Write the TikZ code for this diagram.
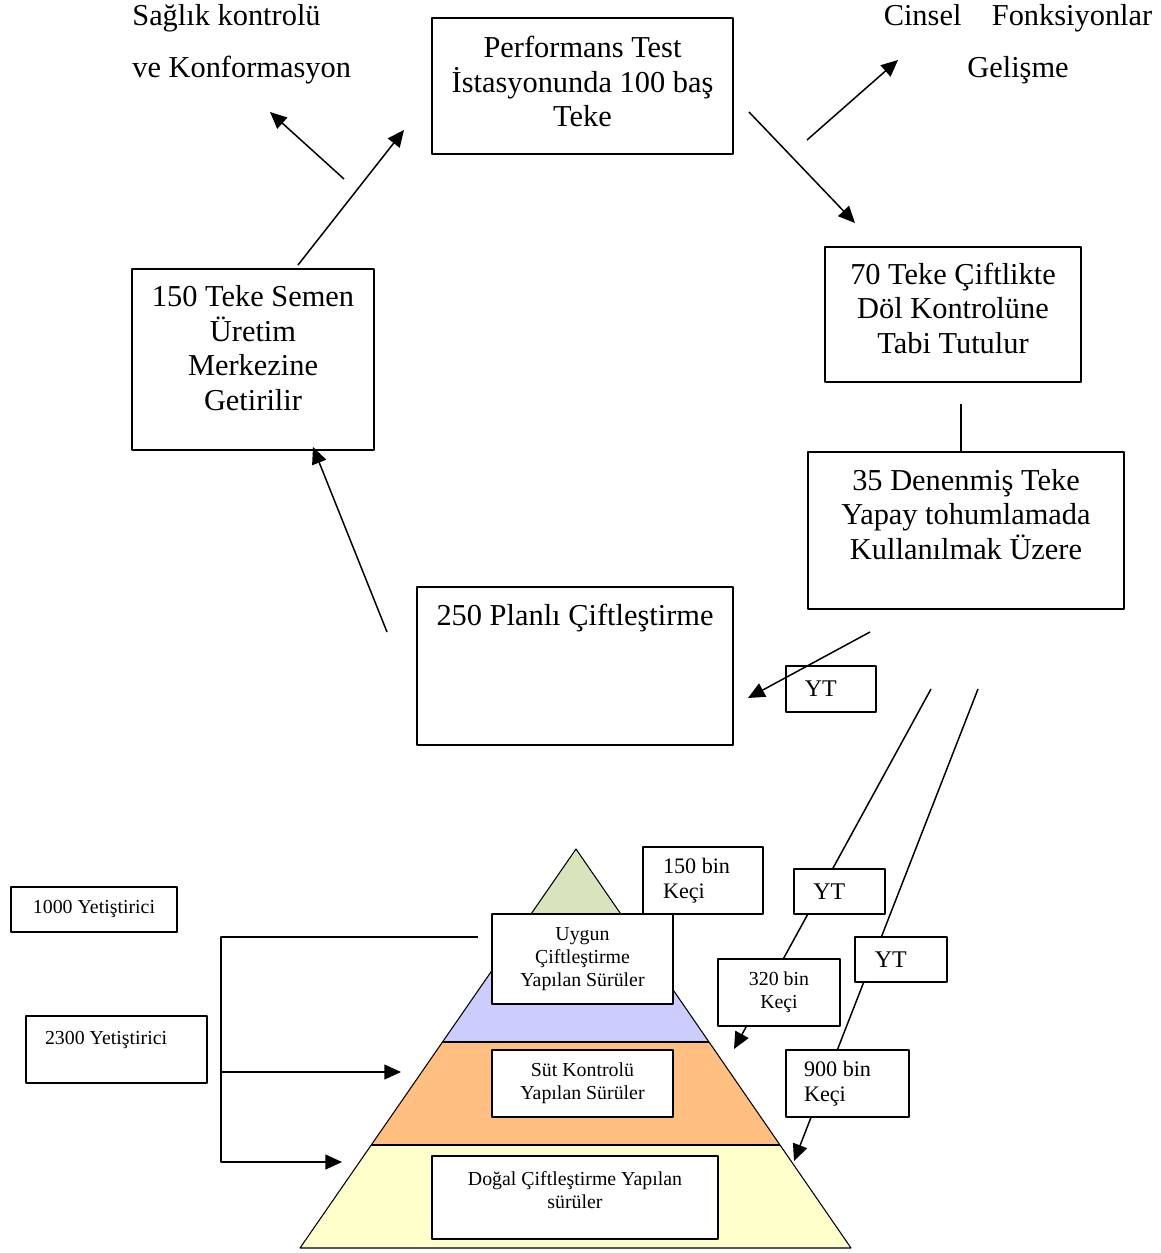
\documentclass[tikz,border=0pt]{standalone}
\usepackage{fontspec}
\setmainfont{Liberation Serif}
\usetikzlibrary{arrows.meta}
\definecolor{yesil}{RGB}{215,228,189}
\definecolor{mavi}{RGB}{204,204,255}
\definecolor{turuncu}{RGB}{255,191,128}
\definecolor{sari}{RGB}{255,255,204}
\newcommand{\bosluk}[1]{\rule[-#1]{0pt}{#1}}
\tikzset{
  kutu/.style={draw,fill=white,line width=1.1pt,inner sep=0pt,align=center},
  buyuk/.style={font=\fontsize{17.3}{19.6}\selectfont},
  seyrek/.style={font=\fontsize{17.3}{29.5}\selectfont},
  orta/.style={font=\fontsize{12.6}{14.2}\selectfont},
  kucuk/.style={font=\fontsize{11.3}{13}\selectfont},
  ytyazi/.style={font=\fontsize{13.6}{15.6}\selectfont},
  ok/.style={->,line width=0.85pt},
}
\begin{document}
\begin{tikzpicture}[x=0.02cm,y=-0.02cm,>={Triangle[length=9.5pt,width=8.5pt]},line join=round]
\useasboundingbox (0,0) rectangle (1160,1253);
% piramit
\coordinate (tepe) at (576,849);
\coordinate (solalt) at (300,1248);
\coordinate (sagalt) at (851,1248);
\begin{scope}
  \clip (tepe) -- (solalt) -- (sagalt) -- cycle;
  \fill[yesil] (250,840) rectangle (900,940);
  \fill[mavi] (250,940) rectangle (900,1042);
  \fill[turuncu] (250,1042) rectangle (900,1145);
  \fill[sari] (250,1145) rectangle (900,1260);
  \draw[line width=0.6pt] (250,1042) -- (900,1042) (250,1145) -- (900,1145);
\end{scope}
\draw[line width=0.6pt] (tepe) -- (solalt) -- (sagalt) -- cycle;

% YT hatlari (kutularin arkasinda)
\coordinate (hat1) at (931,689);
\coordinate (hat1uc) at (734,1049);
\coordinate (hat2) at (978,689);
\coordinate (hat2uc) at (794,1161);
\draw[ok] (hat1) -- (hat1uc);
\draw[ok] (hat2) -- (hat2uc);

% ust dongu
\node[seyrek,align=left,anchor=north west,inner sep=0pt] (saglik) at (132,4) {Sağlık kontrolü\\ve Konformasyon};
\node[seyrek,align=center,anchor=north,inner sep=0pt] (cinsel) at (1018,4) {Cinsel\hspace{1em}Fonksiyonlar\\Gelişme};
\node[kutu,buyuk,minimum width=6.02cm,minimum height=2.72cm] (perf) at (582.5,86) {Performans Test\\İstasyonunda 100 baş\\Teke\bosluk{5pt}};
\node[kutu,buyuk,minimum width=4.84cm,minimum height=3.62cm] (semen) at (253,359.5) {150 Teke Semen\\Üretim\\Merkezine\\Getirilir\bosluk{13pt}};
\node[kutu,buyuk,minimum width=5.12cm,minimum height=2.7cm] (dol) at (953,314.5) {70 Teke Çiftlikte\\Döl Kontrolüne\\Tabi Tutulur\bosluk{7.4pt}};
\node[kutu,buyuk,minimum width=6.32cm,minimum height=3.14cm] (denen) at (966,530.5) {35 Denenmiş Teke\\Yapay tohumlamada\\Kullanılmak Üzere\bosluk{18.7pt}};
\node[kutu,buyuk,minimum width=6.32cm,minimum height=3.16cm] (planli) at (575,666) {250 Planlı Çiftleştirme\bosluk{58.5pt}};
\node[kutu,ytyazi,minimum width=1.8cm,minimum height=0.92cm,text width=1.05cm,align=flush left] (yt1) at (831,689) {YT};

\coordinate (o1) at (344,179); \coordinate (o1uc) at (270,112);
\coordinate (o2) at (298,265); \coordinate (o2uc) at (404,130);
\coordinate (o3) at (807,140); \coordinate (o3uc) at (898,60);
\coordinate (o4) at (749,112); \coordinate (o4uc) at (855,223);
\coordinate (o5) at (870,632); \coordinate (o5uc) at (748,698);
\coordinate (o6) at (387,632); \coordinate (o6uc) at (313,447);
\coordinate (d1) at (961,404);
\draw[ok] (o1) -- (o1uc);
\draw[ok] (o2) -- (o2uc);
\draw[ok] (o3) -- (o3uc);
\draw[ok] (o4) -- (o4uc);
\draw[ok] (o5) -- (o5uc);
\draw[ok] (o6) -- (o6uc);
\draw[line width=0.85pt] (d1) -- (d1 |- denen.north);

% piramit kutulari
\node[kutu,kucuk,minimum width=3.62cm,minimum height=1.8cm] (uygun) at (582.5,959) {Uygun\\Çiftleştirme\\Yapılan Sürüler};
\node[kutu,kucuk,minimum width=3.62cm,minimum height=1.34cm] (sut) at (582.5,1083.5) {Süt Kontrolü\\Yapılan Sürüler};
\node[kutu,kucuk,minimum width=5.72cm,minimum height=1.66cm] (dogal) at (575,1197.5) {Doğal Çiftleştirme Yapılan\\sürüler\bosluk{8.5pt}};
\node[kutu,orta,minimum width=2.4cm,minimum height=1.34cm,text width=1.6cm,align=flush left] (bin150) at (703,880.5) {150 bin\\Keçi};
\node[kutu,kucuk,minimum width=2.44cm,minimum height=1.34cm] (bin320) at (779,992.5) {320 bin\\Keçi};
\node[kutu,orta,minimum width=2.46cm,minimum height=1.34cm,text width=1.74cm,align=flush left] (bin900) at (847.5,1083.5) {900 bin\\Keçi};
\node[kutu,ytyazi,minimum width=1.82cm,minimum height=0.9cm,text width=1.05cm,align=flush left] (yta) at (839.5,891.5) {YT};
\node[kutu,ytyazi,minimum width=1.84cm,minimum height=0.9cm,text width=1.05cm,align=flush left] (ytb) at (901,959.5) {YT};

% yetistiriciler
\node[kutu,kucuk,minimum width=3.32cm,minimum height=0.9cm] (y1000) at (94,909.5) {1000 Yetiştirici};
\node[kutu,kucuk,minimum width=3.62cm,minimum height=1.34cm,text width=2.86cm,align=flush left] (y2300) at (116.5,1049.5) {2300 Yetiştirici\bosluk{13pt}};
\coordinate (kolust) at (478,937);
\coordinate (kolalt) at (221,1162);
\coordinate (ok1) at (401,1072);
\coordinate (ok2) at (342,1162);
\draw[ok] (kolust) -| (kolalt) -- (ok2);
\draw[ok] (kolalt |- ok1) -- (ok1);
\end{tikzpicture}
\end{document}
